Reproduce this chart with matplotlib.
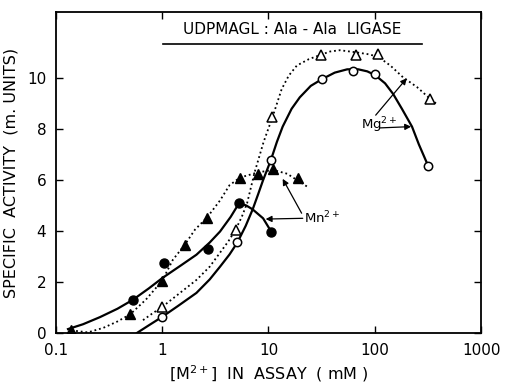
import numpy as np
import matplotlib
matplotlib.use('Agg')  # headless
import matplotlib.pyplot as plt

mg_circ_x = [1.0, 5.1, 10.5, 31.7, 62, 101, 317]
mg_circ_y = [0.63, 3.55, 6.77, 9.96, 10.3, 10.15, 6.57]
mg_tri_x = [1.0, 4.9, 10.9, 31, 66, 107, 330]
mg_tri_y = [1.02, 4.05, 8.47, 10.9, 10.9, 10.95, 9.2]
mn_circ_x = [0.53, 1.03, 2.7, 5.3, 10.6]
mn_circ_y = [1.3, 2.75, 3.3, 5.1, 3.98]
mn_tri_x = [0.14, 0.5, 1.0, 1.63, 2.64, 5.4, 7.9, 11, 18.8]
mn_tri_y = [0.12, 0.73, 2.05, 3.46, 4.53, 6.1, 6.25, 6.45, 6.1]

# hand-drawn curves
mg_circ_fit_x = [0.58, 0.75, 1.0, 1.4, 2.1, 2.8, 3.5, 4.3, 5.1, 6.1, 7.1, 8.0, 8.9, 10.5, 12,
                 13.6, 16.5, 19.7, 25, 31.7, 42, 55, 70, 85, 101, 125, 149, 180, 224, 260, 317]
mg_circ_fit_y = [0.0, 0.3, 0.63, 1.05, 1.57, 2.1, 2.6, 3.08, 3.55, 4.2, 4.85, 5.45, 6.0, 6.77, 7.5,
                 8.1, 8.8, 9.25, 9.7, 9.96, 10.22, 10.35, 10.35, 10.27, 10.12, 9.8, 9.38, 8.8,
                 8.1, 7.4, 6.57]
mg_tri_fit_x = [0.66, 0.8, 1.0, 1.4, 2.1, 2.8, 3.5, 4.2, 4.9, 5.6, 6.3, 7.4, 9.0, 10.9, 13.3,
                15.5, 18.5, 24, 31, 38, 47, 66, 85, 107, 140, 184, 250, 330, 385]
mg_tri_fit_y = [0.5, 0.75, 1.02, 1.5, 2.08, 2.6, 3.15, 3.6, 4.05, 4.55, 5.1, 6.3, 7.5, 8.47, 9.57,
                10.1, 10.5, 10.75, 10.92, 11.05, 11.1, 11.02, 10.95, 10.85, 10.5, 10.04, 9.65,
                9.2, 8.98]
mn_circ_fit_x = [0.13, 0.18, 0.26, 0.38, 0.53, 0.75, 1.0, 1.5, 2.1, 2.8, 3.5, 4.4, 5.3, 6.2,
                 7.1, 8.9, 10.6]
mn_circ_fit_y = [0.15, 0.34, 0.62, 0.95, 1.3, 1.75, 2.15, 2.65, 3.07, 3.55, 3.98, 4.55, 5.1, 5.0,
                 4.85, 4.5, 3.98]
mn_tri_fit_x = [0.14, 0.2, 0.28, 0.38, 0.5, 0.7, 1.0, 1.26, 1.63, 2.03, 2.64, 3.5, 4.3, 5.4,
                7.9, 11, 15, 23]
mn_tri_fit_y = [0.1, 0.02, 0.2, 0.45, 0.73, 1.3, 2.05, 2.87, 3.46, 4.05, 4.53, 5.2, 5.8, 6.1,
                6.3, 6.4, 6.25, 5.75]

x_ticks = [0.1, 1, 10, 100, 1000]
x_tick_labels = ['0.1', '1', '10', '100', '1000']
y_ticks = [0, 2, 4, 6, 8, 10]

plt.rcParams['font.family'] = ['DejaVu Sans']

fig = plt.figure(figsize=(5.08, 3.88), dpi=100)
ax = fig.add_axes([0.110, 0.142, 0.837, 0.827])

dots = (0, (1, 1.6))
ax.plot(mg_circ_fit_x, mg_circ_fit_y, color='black', lw=1.6)
ax.plot(mg_tri_fit_x, mg_tri_fit_y, color='black', lw=1.3, linestyle=dots)
ax.plot(mn_circ_fit_x, mn_circ_fit_y, color='black', lw=1.6)
ax.plot(mn_tri_fit_x, mn_tri_fit_y, color='black', lw=1.3, linestyle=dots)

ax.plot(mg_circ_x, mg_circ_y, 'o', ms=6, mfc='white', mec='black', mew=1.1)
ax.plot(mg_tri_x, mg_tri_y, '^', ms=6.5, mfc='white', mec='black', mew=1.1)
ax.plot(mn_circ_x, mn_circ_y, 'o', ms=6.5, color='black')
ax.plot(mn_tri_x, mn_tri_y, '^', ms=7, color='black')

# labels with arrows
arr = dict(arrowstyle='-|>', color='black', lw=0.9, mutation_scale=9, shrinkA=0, shrinkB=0)
ax.text(75, 8.15, 'Mg$^{2+}$', fontsize=9.5, va='center', ha='left')
ax.annotate('', xy=(220, 8.1), xytext=(112, 8.05), arrowprops=arr)
ax.annotate('', xy=(200, 10.0), xytext=(102, 8.55), arrowprops=arr)
ax.text(21.5, 4.5, 'Mn$^{2+}$', fontsize=9.5, va='center', ha='left')
ax.annotate('', xy=(9.4, 4.47), xytext=(21, 4.5), arrowprops=arr)
ax.annotate('', xy=(13.6, 6.05), xytext=(20.5, 4.7), arrowprops=arr)

# underlined title inside the frame
ax.text(0.555, 0.944, 'UDPMAGL : Ala - Ala  LIGASE', transform=ax.transAxes,
        ha='center', va='center', fontsize=11)
ax.plot([0.252, 0.861], [0.90, 0.90], transform=ax.transAxes, color='black', lw=1.2)

ax.set_xscale('log')
ax.set_xlim(0.1, 1000)
ax.set_ylim(0, 12.6)
ax.set_xticks(x_ticks)
ax.set_xticklabels(x_tick_labels)
ax.set_yticks(y_ticks)
ax.minorticks_off()
ax.tick_params(direction='in', length=5, width=1, top=True, right=True,
               labelsize=11, pad=7)
for s in ax.spines.values():
    s.set_linewidth(1.3)

ax.set_xlabel('[M$^{2+}$]  IN  ASSAY  ( mM )', fontsize=11.5, labelpad=4)
ax.set_ylabel('SPECIFIC  ACTIVITY  (m. UNITS)', fontsize=11.5, labelpad=6)

fig.savefig('out.png', dpi=100)
